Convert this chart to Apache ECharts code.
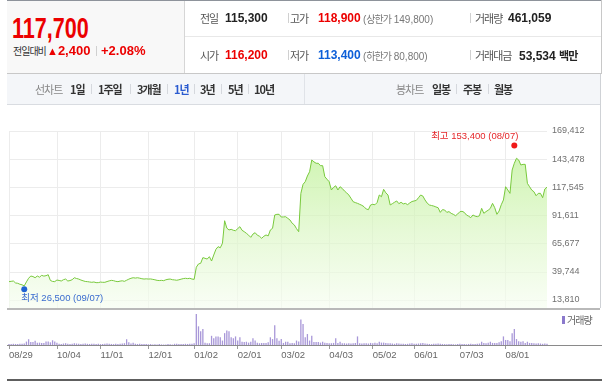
<!DOCTYPE html>
<html><head><meta charset="utf-8">
<script src="https://cdn.jsdelivr.net/npm/echarts@6/dist/echarts.min.js"></script>
<style>
html,body{margin:0;padding:0;background:#fff;}
body{width:602px;height:381px;position:relative;overflow:hidden;font-family:"Liberation Sans","Noto Sans CJK KR",sans-serif;}
#chart{position:absolute;left:0;top:0;width:602px;height:381px;}
.a{position:absolute;white-space:nowrap;z-index:2;}
.k{font-family:"Noto Sans CJK KR",sans-serif;letter-spacing:-1px;}
.ln{position:absolute;z-index:3;}
</style></head><body>
<div id="chart"></div>

<!-- header frame -->
<div class="ln" style="left:7px;top:0;width:595px;height:1px;background:#8e939b"></div>
<div class="ln" style="left:7px;top:1px;width:177px;height:72px;background:#f8f8f8;z-index:1"></div>
<div class="ln" style="left:184px;top:1px;width:1px;height:72px;background:#d6d6d6"></div>
<div class="ln" style="left:185px;top:36px;width:416px;height:1px;background:#e8e8e8"></div>
<div class="ln" style="left:7px;top:73px;width:594px;height:1px;background:#c8c8c8"></div>
<div class="ln" style="left:601px;top:0;width:1px;height:74px;background:#c8c8c8"></div>

<div class="a" style="left:12px;top:13px;font-size:30px;line-height:30px;font-weight:bold;color:#ec0000;transform:scaleX(0.72);transform-origin:0 0;letter-spacing:0px">117,700</div>
<div class="a k" style="left:13px;top:45px;font-size:10px;line-height:12px;color:#333">전일대비</div>
<div class="a" style="left:47px;top:44px;font-size:13px;line-height:13px;color:#ec0000;font-weight:bold"><span style="font-size:11px">▲</span>2,400</div>
<div class="ln" style="left:96px;top:46px;width:1px;height:10px;background:#d0d0d0"></div>
<div class="a" style="left:101px;top:44px;font-size:13px;line-height:13px;color:#ec0000;font-weight:bold">+2.08%</div>

<div class="a k" style="left:200px;top:12px;font-size:11px;line-height:12px;color:#555">전일</div>
<div class="a" style="left:225px;top:12px;font-size:12px;line-height:12px;color:#222;font-weight:bold">115,300</div>
<div class="ln" style="left:288px;top:13px;width:1px;height:10px;background:#d0d0d0"></div>
<div class="a k" style="left:290px;top:12px;font-size:11px;line-height:12px;color:#555">고가</div>
<div class="a" style="left:318px;top:12px;font-size:12px;line-height:12px;color:#ec0000;font-weight:bold">118,900</div>
<div class="a" style="left:363px;top:13px;font-size:10px;line-height:11px;color:#777">(<span class="k" style="letter-spacing:-1px">상한가</span> 149,800)</div>
<div class="ln" style="left:470px;top:13px;width:1px;height:10px;background:#d0d0d0"></div>
<div class="a k" style="left:475px;top:12px;font-size:11px;line-height:12px;color:#555">거래량</div>
<div class="a" style="left:508px;top:12px;font-size:12px;line-height:12px;color:#222;font-weight:bold">461,059</div>

<div class="a k" style="left:200px;top:49px;font-size:11px;line-height:12px;color:#555">시가</div>
<div class="a" style="left:225px;top:49px;font-size:12px;line-height:12px;color:#ec0000;font-weight:bold">116,200</div>
<div class="ln" style="left:288px;top:50px;width:1px;height:10px;background:#d0d0d0"></div>
<div class="a k" style="left:290px;top:49px;font-size:11px;line-height:12px;color:#555">저가</div>
<div class="a" style="left:318px;top:49px;font-size:12px;line-height:12px;color:#0d5fd8;font-weight:bold">113,400</div>
<div class="a" style="left:363px;top:50px;font-size:10px;line-height:11px;color:#777">(<span class="k" style="letter-spacing:-1px">하한가</span> 80,800)</div>
<div class="ln" style="left:470px;top:50px;width:1px;height:10px;background:#d0d0d0"></div>
<div class="a k" style="left:475px;top:49px;font-size:11px;line-height:12px;color:#555">거래대금</div>
<div class="a" style="left:519px;top:49px;font-size:12px;line-height:12px;color:#222;font-weight:bold">53,534 <span class="k" style="font-size:11px">백만</span></div>

<!-- tab bar -->
<div class="ln" style="left:7px;top:74px;width:594px;height:30px;background:#f4f6f9;z-index:1"></div>
<div class="ln" style="left:7px;top:104px;width:594px;height:1px;background:#d9dce1"></div>
<div class="ln" style="left:304px;top:74px;width:1px;height:30px;background:#e0e3e8"></div>
<div class="ln" style="left:600px;top:74px;width:1px;height:234px;background:#cfd2d6"></div>

<div class="a k" style="left:35px;top:83px;font-size:11px;line-height:12px;color:#888">선차트</div>
<div class="a k" style="left:70px;top:83px;font-size:11px;line-height:12px;color:#333;font-weight:bold">1일</div>
<div class="ln" style="left:91px;top:84px;width:1px;height:10px;background:#d5d8dd"></div>
<div class="a k" style="left:98px;top:83px;font-size:11px;line-height:12px;color:#333;font-weight:bold">1주일</div>
<div class="ln" style="left:130px;top:84px;width:1px;height:10px;background:#d5d8dd"></div>
<div class="a k" style="left:137px;top:83px;font-size:11px;line-height:12px;color:#333;font-weight:bold">3개월</div>
<div class="ln" style="left:167px;top:84px;width:1px;height:10px;background:#d5d8dd"></div>
<div class="a k" style="left:174px;top:83px;font-size:11px;line-height:12px;color:#2a5bd0;font-weight:bold">1년</div>
<div class="ln" style="left:194px;top:84px;width:1px;height:10px;background:#d5d8dd"></div>
<div class="a k" style="left:200px;top:83px;font-size:11px;line-height:12px;color:#333;font-weight:bold">3년</div>
<div class="ln" style="left:221px;top:84px;width:1px;height:10px;background:#d5d8dd"></div>
<div class="a k" style="left:228px;top:83px;font-size:11px;line-height:12px;color:#333;font-weight:bold">5년</div>
<div class="ln" style="left:248px;top:84px;width:1px;height:10px;background:#d5d8dd"></div>
<div class="a k" style="left:254px;top:83px;font-size:11px;line-height:12px;color:#333;font-weight:bold">10년</div>

<div class="a k" style="left:396px;top:83px;font-size:11px;line-height:12px;color:#888">봉차트</div>
<div class="a k" style="left:432px;top:83px;font-size:11px;line-height:12px;color:#333;font-weight:bold">일봉</div>
<div class="ln" style="left:456px;top:84px;width:1px;height:10px;background:#d5d8dd"></div>
<div class="a k" style="left:463px;top:83px;font-size:11px;line-height:12px;color:#333;font-weight:bold">주봉</div>
<div class="ln" style="left:488px;top:84px;width:1px;height:10px;background:#d5d8dd"></div>
<div class="a k" style="left:494px;top:83px;font-size:11px;line-height:12px;color:#333;font-weight:bold">월봉</div>

<!-- chart frame lines -->
<div class="ln" style="left:7px;top:308px;width:593px;height:2px;background:#b9b9b9"></div>
<div class="ln" style="left:7px;top:345px;width:595px;height:1px;background:#8a8a8a"></div>
<div class="ln" style="left:7px;top:379px;width:595px;height:2px;background:#5e5e5e"></div>
<div class="ln" style="left:562px;top:316px;width:3px;height:8px;background:#8b79cc"></div>
<div class="a k" style="left:567px;top:314px;font-size:10px;line-height:12px;color:#666">거래량</div>

<script>
// ---- data ----
const startDate = '2016-08-29';
const endDate = '2017-08-29';
const holidays = ['2016-09-14','2016-09-15','2016-09-16','2016-10-03','2016-12-30',
  '2017-01-27','2017-01-30','2017-03-01','2017-05-01','2017-05-03','2017-05-05',
  '2017-05-09','2017-06-06','2017-08-15'];
const tickDates = ['2016-08-29','2016-10-04','2016-11-01','2016-12-01','2017-01-02','2017-02-01',
  '2017-03-02','2017-04-03','2017-05-02','2017-06-01','2017-07-03','2017-08-01'];
const yTickLabels = ['13,810','39,744','65,677','91,611','117,545','143,478','169,412'];

const closePrices = [
30700,31000,31300,29500,29200,28300,27800,26800,30500,33800,
35900,35400,34300,35900,34800,36500,35800,36200,37100,31800,
30900,30700,32200,31800,31300,32500,33100,31300,31700,32500,
34300,33600,33100,32200,31500,30900,30700,30400,30100,30400,
29800,29800,30300,30100,30100,30800,31400,31900,31600,31000,
30700,31200,31500,31000,32000,33000,33800,34300,34000,34300,
33900,33400,33100,33300,33100,33200,32800,32400,31900,31700,
31900,31600,32400,32900,33100,32500,32300,32000,32400,33000,
33500,33800,33500,33800,33100,32800,44000,47000,47600,52800,
52200,51500,53700,49700,55200,60500,62900,61900,66000,86800,
80000,78300,78900,78000,77600,79500,81300,78000,76700,75200,
73500,71500,74500,75800,73500,72500,70600,72500,73700,72800,
78300,79800,92100,92700,92700,90200,90300,90500,89000,87500,
84500,82900,79500,76700,112000,120300,122700,128000,131900,142700,
141000,139700,139700,137500,137500,127300,125000,122700,115100,117500,
119000,115100,118100,116500,114200,112500,110500,107500,104300,103500,
102800,101900,101000,99700,97600,97000,101300,101900,101500,103500,
110500,108900,115700,112500,110500,101300,102500,103800,105000,102500,
103800,102300,102800,101600,103200,104500,105000,105500,108000,110500,
109500,105900,103000,101300,100800,100300,99500,98800,94500,97000,
96700,94500,95200,93600,92700,91400,93000,95100,95500,94500,
92100,91000,89600,92100,91000,90500,91400,98200,93600,95200,
96500,98200,102800,98800,92700,95700,101500,105900,118100,115100,
112000,133500,139700,144300,142700,138100,138700,138700,121200,118100,
115000,113500,109800,112000,112000,108000,116000,117700];

// volume, thousand shares
const volumes = [
350,300,400,350,300,450,400,500,1150,1950,
1000,1000,1400,800,800,700,700,1150,1150,900,
1600,1150,800,400,350,500,600,400,350,450,
600,500,400,350,450,500,400,350,450,400,
350,400,300,350,450,500,400,350,300,400,
350,450,500,600,1950,900,500,800,400,350,
400,300,350,300,250,300,200,250,150,300,
200,150,200,300,250,150,400,450,300,350,
350,400,350,400,450,600,10500,6300,4600,5400,
800,600,600,3100,2300,2900,2900,2600,1500,4000,
4900,4600,2600,2300,2900,1500,2600,1100,1000,1100,
800,1100,2300,1500,800,600,700,700,700,900,
2600,2000,6700,2300,1400,2000,700,1100,1100,600,
700,600,1500,1200,8600,7100,2600,3700,1500,3100,
1000,1000,1000,800,1100,800,700,600,600,700,
2300,700,1100,600,600,500,600,500,600,700,
2900,600,500,600,600,500,700,600,800,600,
1100,800,800,700,600,600,500,400,600,500,
400,450,350,400,500,600,450,400,500,600,
700,500,400,350,300,400,450,500,400,350,
300,250,300,350,250,200,300,400,350,300,
250,350,400,300,350,400,500,1100,700,600,
800,1100,700,700,700,900,1300,2900,1700,1700,
1300,4000,5400,2000,1300,1100,1300,700,1100,700,
700,600,500,600,500,400,500,461];

const highMark = {date:'2017-08-07', value:153400, text:'최고'};
const lowMark = {date:'2016-09-07', value:26500, text:'최저'};

// ---- trading-day categories ----
const categories = [];
(function(){
  const hs = new Set(holidays);
  const d = new Date(startDate + 'T00:00:00Z');
  const end = new Date(endDate + 'T00:00:00Z');
  while (d <= end) {
    const wd = d.getUTCDay();
    const s = d.toISOString().slice(0,10);
    if (wd !== 0 && wd !== 6 && !hs.has(s)) categories.push(s);
    d.setUTCDate(d.getUTCDate() + 1);
  }
})();

const tickSet = new Set(tickDates);
const isTick = (idx, val) => tickSet.has(val);
const fmtNum = v => v.toLocaleString('en-US');
const fmtMD = s => s.slice(5).replace('-', '/');

// layout
const plotLeft = 9, plotRight = 55;
const priceTop = 131, labelBottom = 81, priceBottom = 73;
const priceMax = 169412;
const pxPerVal = (169412 - 13810) / (300 - 131);
const priceMin = 13810 - 8 * pxPerVal;

const FONT = '"Liberation Sans","Noto Sans CJK KR",sans-serif';
const chart = echarts.init(document.getElementById('chart'), null, {renderer:'canvas'});
chart.setOption({
  animation: false,
  grid: [
    {left: plotLeft, right: plotRight, top: priceTop, bottom: labelBottom},
    {left: plotLeft, right: plotRight, top: priceTop, bottom: priceBottom},
    {left: plotLeft, right: plotRight, top: 313, bottom: 36}
  ],
  xAxis: [
    {gridIndex:0, type:'category', data:categories, boundaryGap:false, show:false},
    {gridIndex:1, type:'category', data:categories, boundaryGap:false,
     axisLine:{show:false}, axisTick:{show:false}, axisLabel:{show:false},
     splitLine:{show:true, interval:isTick, lineStyle:{color:'#ececec', width:1}}},
    {gridIndex:2, type:'category', data:categories, boundaryGap:false,
     axisLine:{show:false},
     axisTick:{show:true, interval:isTick, length:4, lineStyle:{color:'#9a9a9a'}},
     axisLabel:{show:true, interval:isTick, formatter:fmtMD, align:'left', margin:6,
       fontSize:9.5, color:'#666', fontFamily:FONT},
     splitLine:{show:false}}
  ],
  yAxis: [
    {gridIndex:0, type:'value', min:0, max:yTickLabels.length-1, interval:1, position:'right',
     axisLine:{show:false}, axisTick:{show:false},
     axisLabel:{formatter:v => yTickLabels[v], margin:5, fontSize:9, color:'#707070', fontFamily:FONT},
     splitLine:{show:true, lineStyle:{color:'#ececec', width:1}}},
    {gridIndex:1, type:'value', min:priceMin, max:priceMax, show:false, splitLine:{show:false}},
    {gridIndex:2, type:'value', min:0, max:10800, show:false, splitLine:{show:false}}
  ],
  series: [
    {type:'line', xAxisIndex:1, yAxisIndex:1, data:closePrices, symbol:'none', smooth:false,
     lineStyle:{color:'#78c93c', width:1},
     areaStyle:{color:new echarts.graphic.LinearGradient(0,0,0,1,[
        {offset:0, color:'#bdf095'}, {offset:0.5, color:'#dcf6c6'}, {offset:1, color:'#f6fdf1'}])},
     markPoint:{
       symbol:'circle', symbolSize:6, silent:true,
       data:[
         {coord:[highMark.date, highMark.value], symbolOffset:[0,-3],
          itemStyle:{color:'#f01919'},
          label:{show:true, formatter: highMark.text + ' ' + fmtNum(highMark.value) + ' (' + fmtMD(highMark.date) + ')',
            position:[7,-6], align:'right', verticalAlign:'middle', color:'#e5262a', fontSize:9.5, fontFamily:FONT}},
         {coord:[lowMark.date, lowMark.value], symbolOffset:[0,3],
          itemStyle:{color:'#1f63d3'},
          label:{show:true, formatter: lowMark.text + ' ' + fmtNum(lowMark.value) + ' (' + fmtMD(lowMark.date) + ')',
            position:[0,12], align:'left', verticalAlign:'middle', color:'#3a6ccf', fontSize:9.5, fontFamily:FONT}}
       ]
     }},
    {type:'bar', xAxisIndex:2, yAxisIndex:2, data:volumes, barWidth:1.3,
     itemStyle:{color:'#a897d8'}}
  ]
});
</script>
</body></html>
